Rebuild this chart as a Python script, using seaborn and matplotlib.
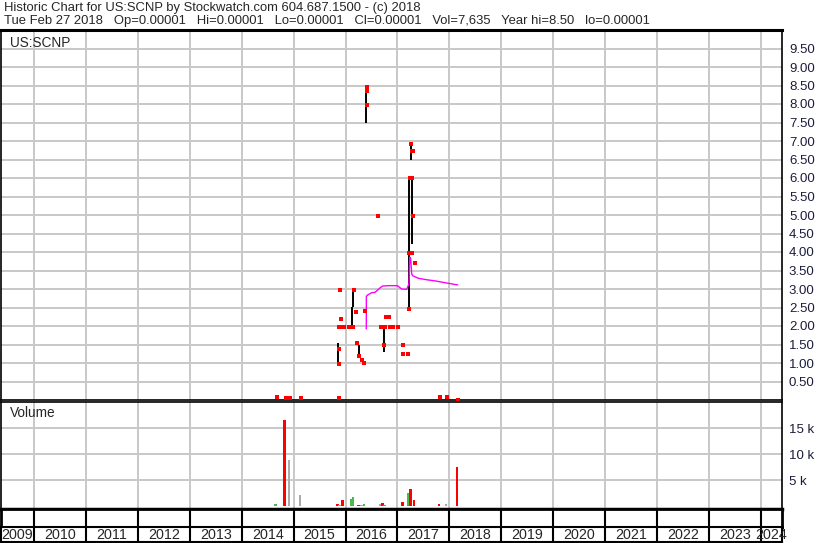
import matplotlib
matplotlib.use('Agg')
import matplotlib.pyplot as plt
import seaborn as sns
import numpy as np
import pandas as pd

# x values are decimal years
# black high-low bars
bar_x = [2015.860, 2016.129, 2016.149, 2016.253, 2016.399, 2016.746, 2017.225, 2017.260, 2017.273]
bar_lo = [0.98, 1.97, 2.51, 1.16, 7.50, 1.29, 2.47, 6.49, 4.22]
bar_hi = [1.55, 2.51, 2.99, 1.50, 8.50, 1.97, 6.00, 6.98, 6.00]

# red close marks
close_x = [2014.674, 2014.853, 2014.930, 2015.136, 2015.868, 2017.818, 2017.953, 2018.165,
           2015.893, 2015.921, 2015.880, 2015.913, 2015.961, 2016.072, 2016.137,
           2015.879, 2015.868, 2016.155, 2016.201, 2016.214, 2016.264, 2016.316, 2016.355,
           2016.374, 2016.406, 2016.406, 2016.406, 2016.619,
           2016.778, 2016.817, 2016.836, 2016.676, 2016.715, 2016.753, 2016.850, 2016.907, 2017.004,
           2016.734, 2017.106, 2017.106, 2017.202, 2017.216,
           2017.221, 2017.260, 2017.279, 2017.337, 2017.292, 2017.250, 2017.279,
           2017.260, 2017.279, 2017.298]
close_y = [0.08, 0.05, 0.05, 0.05, 0.05, 0.08, 0.08, 0.00,
           2.97, 2.18, 1.97, 1.97, 1.97, 1.97, 1.97,
           1.37, 0.96, 2.96, 2.37, 1.54, 1.18, 1.07, 0.99,
           2.40, 8.45, 8.35, 7.98, 4.97,
           2.24, 2.24, 2.24, 1.97, 1.97, 1.97, 1.97, 1.97, 1.97,
           1.49, 1.49, 1.25, 1.25, 2.47,
           3.97, 3.97, 3.97, 3.70, 4.96, 6.00, 6.00,
           6.92, 6.72, 6.72]

# magenta average line
ma_x = [2016.399, 2016.400, 2016.426, 2016.503, 2016.567, 2016.663, 2016.715, 2016.823, 2016.996,
        2017.081, 2017.177, 2017.221, 2017.235, 2017.254, 2017.273, 2017.292, 2017.400, 2017.562,
        2017.722, 2017.914, 2018.159]
ma_y = [1.92, 2.80, 2.84, 2.90, 2.91, 3.03, 3.08, 3.09, 3.09,
        3.00, 2.99, 3.14, 3.86, 3.82, 3.41, 3.36, 3.29, 3.25,
        3.22, 3.17, 3.11]

# volume bars (shares), colour code: r = down, g = up, n = unchanged
vol_x = [2014.650, 2014.828, 2014.910, 2015.122, 2015.844, 2015.883, 2015.912, 2015.945, 2016.034,
         2016.110, 2016.143, 2016.182, 2016.220, 2016.249, 2016.297, 2016.326, 2016.355, 2016.389,
         2016.605, 2016.663, 2016.715, 2016.746, 2016.778, 2016.817, 2016.875, 2016.990,
         2017.092, 2017.177, 2017.216, 2017.254, 2017.317, 2017.799, 2017.934, 2018.146]
vol_v = [450, 16600, 8900, 2200, 350, 200, 200, 1200, 100,
         1400, 1850, 150, 150, 200, 200, 200, 450, 150,
         70, 350, 600, 300, 100, 150, 80, 80,
         800, 100, 2500, 3300, 1200, 350, 350, 7600]
vol_c = ['g', 'r', 'n', 'n', 'r', 'n', 'n', 'r', 'n',
         'g', 'g', 'r', 'r', 'r', 'n', 'n', 'g', 'r',
         'r', 'n', 'r', 'g', 'n', 'r', 'n', 'n',
         'r', 'n', 'g', 'r', 'r', 'r', 'n', 'r']

years = list(range(2009, 2025))
price_ticks = [0.5 * i for i in range(1, 20)]
vol_ticks = [5000, 10000, 15000]

sns.set_style('white')
plt.rcParams['font.family'] = ['Liberation Sans', 'DejaVu Sans']

W, H = 830, 543
fig = plt.figure(figsize=(W / 100, H / 100), dpi=100)
x0, x1 = 2009.365, 2024.404
grid_c = '#c8c8c8'
lab_c = '#1c1c3c'


def box(top, bottom, left=1, right=782):
    return [left / W, (H - bottom) / H, (right - left) / W, (bottom - top) / H]


def frame(ax, lw=1.2):
    for s in ax.spines.values():
        s.set_color('black')
        s.set_linewidth(lw)
        s.set_visible(True)


# price panel
ax = fig.add_axes(box(30, 400))
ax.set_xlim(x0, x1)
ax.set_ylim(0, 10)
for yr in years[1:]:
    ax.axvline(yr, color=grid_c, lw=1.4, zorder=0)
for p in price_ticks:
    ax.axhline(p, color=grid_c, lw=1.4, zorder=0)
ax.vlines(bar_x, bar_lo, bar_hi, color='black', lw=1.4, zorder=2)
ma = pd.DataFrame({'x': ma_x, 'y': ma_y})
sns.lineplot(data=ma, x='x', y='y', sort=False, estimator=None, color='#ff00ff', lw=1.0, ax=ax, zorder=3)
cl = pd.DataFrame({'x': close_x, 'y': close_y})
sns.scatterplot(data=cl, x='x', y='y', marker='s', s=5, color='#ff0000', linewidth=0, ax=ax, zorder=4)
ax.set_xticks([])
ax.yaxis.tick_right()
ax.set_yticks(price_ticks)
ax.set_yticklabels(['%.2f' % p for p in price_ticks])
ax.tick_params(axis='y', length=0, pad=5, labelsize=9.5, labelcolor=lab_c)
ax.set_xlabel('')
ax.set_ylabel('')
frame(ax)
ax.spines['top'].set_linewidth(2.2)
ax.text(0.012, 0.985, 'US:SCNP', transform=ax.transAxes, ha='left', va='top', fontsize=9.8)

# volume panel
av = fig.add_axes(box(402, 509))
av.set_xlim(x0, x1)
av.set_ylim(-520, 20060)
for yr in years[1:]:
    av.axvline(yr, color=grid_c, lw=1.4, zorder=0)
for v in vol_ticks:
    av.axhline(v, color=grid_c, lw=1.4, zorder=0)
cmap = {'r': '#ff0000', 'g': '#4cb84c', 'n': '#aaaaaa'}
av.bar(vol_x, vol_v, width=0.05, color=[cmap[c] for c in vol_c], linewidth=0, edgecolor='none', zorder=2)
av.set_xticks([])
av.yaxis.tick_right()
av.set_yticks(vol_ticks)
av.set_yticklabels(['%d k' % (v // 1000) for v in vol_ticks])
av.tick_params(axis='y', length=0, pad=5, labelsize=9.5, labelcolor=lab_c)
frame(av)
av.spines['bottom'].set_linewidth(2.5)
av.text(0.012, 0.96, 'Volume', transform=av.transAxes, ha='left', va='top', fontsize=9.8)

# empty strip
ast = fig.add_axes(box(509, 527))
ast.set_xlim(x0, x1)
ast.set_ylim(0, 1)
for yr in years[1:]:
    ast.axvline(yr, color='black', lw=1.5)
ast.set_xticks([])
ast.set_yticks([])
frame(ast, 2)

# year labels row
ay = fig.add_axes(box(527, 542))
ay.set_xlim(x0, x1)
ay.set_ylim(0, 1)
for yr in years[1:]:
    ay.axvline(yr, color='black', lw=1.5)
for yr in years:
    c = (max(yr, x0) + min(yr + 1, x1)) / 2
    ay.text(c, 0.45, str(yr), ha='center', va='center', fontsize=10.3, clip_on=False)
ay.set_xticks([])
ay.set_yticks([])
frame(ay, 1.5)

# header
fig.text(4 / W, 1 - 8 / H, 'Historic Chart for US:SCNP by Stockwatch.com 604.687.1500 - (c) 2018',
         ha='left', va='center', fontsize=9.4)
fig.text(4 / W, 1 - 21 / H,
         'Tue Feb 27 2018   Op=0.00001   Hi=0.00001   Lo=0.00001   Cl=0.00001   Vol=7,635   Year hi=8.50   lo=0.00001',
         ha='left', va='center', fontsize=9.4)

fig.savefig('out.png', dpi=100)
